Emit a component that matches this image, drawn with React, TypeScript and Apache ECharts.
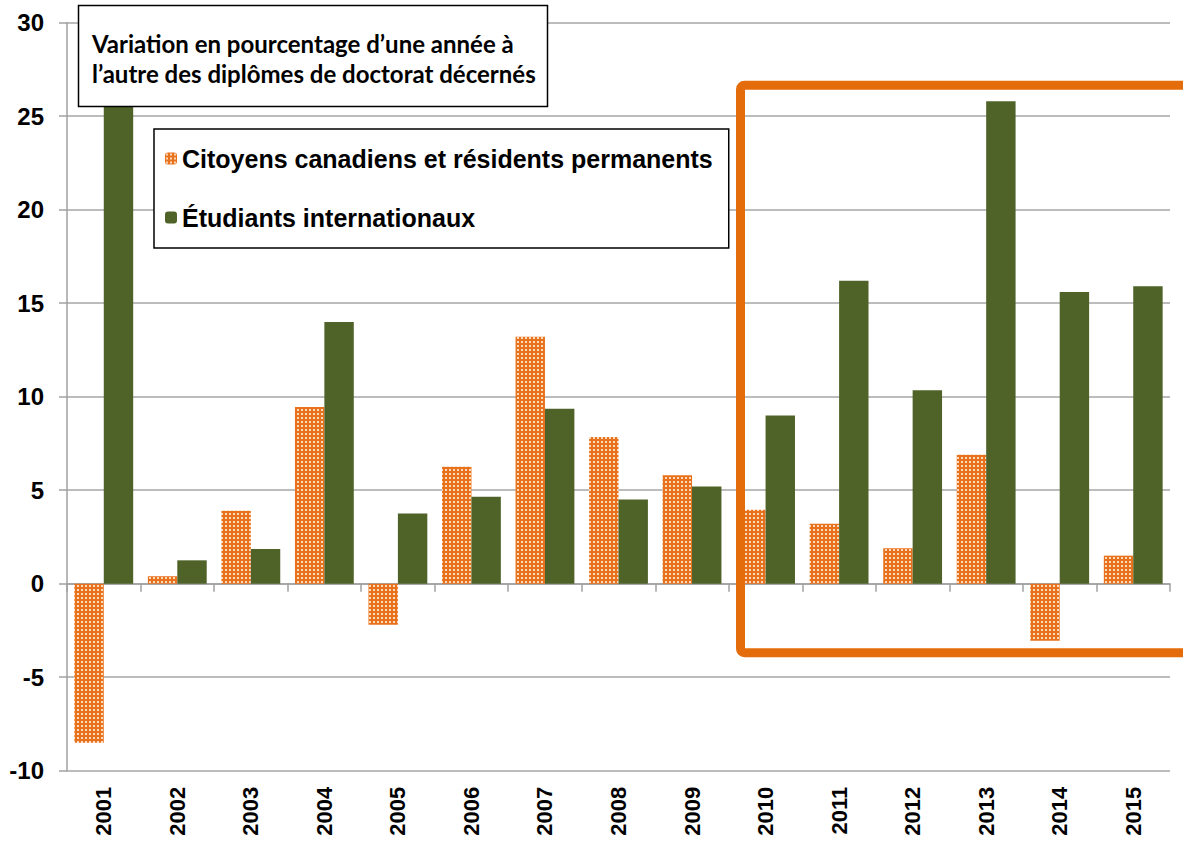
import React, { useEffect, useRef } from "react";
import * as echarts from "echarts";

const years = ["2001", "2002", "2003", "2004", "2005", "2006", "2007", "2008", "2009", "2010", "2011", "2012", "2013", "2014", "2015"];
const citoyens = [-8.5, 0.4, 3.9, 9.45, -2.2, 6.25, 13.2, 7.85, 5.8, 3.95, 3.2, 1.9, 6.9, -3.05, 1.5];
const internationaux = [27.5, 1.25, 1.85, 14.0, 3.75, 4.65, 9.35, 4.5, 5.2, 9.0, 16.2, 10.35, 25.8, 15.6, 15.9];
const seriesNames = ["Citoyens canadiens et résidents permanents", "Étudiants internationaux"];
const titleLines = ["Variation en pourcentage d\u2019une année à", "l\u2019autre des diplômes de doctorat décernés"];

function makePattern() {
  const c = document.createElement("canvas");
  c.width = 4;
  c.height = 4;
  const ctx = c.getContext("2d")!;
  ctx.fillStyle = "#E8721C";
  ctx.fillRect(0, 0, 4, 4);
  ctx.fillStyle = "#FCD9BC";
  ctx.fillRect(1, 1, 2, 2);
  return { image: c.toDataURL(), repeat: "repeat" };
}

export default function App() {
  const ref = useRef<HTMLDivElement>(null);
  useEffect(() => {
    const chart = echarts.init(ref.current!, null, { renderer: "svg" });
    const pattern = makePattern();
    const axisFont = { fontFamily: "Liberation Sans, Arial", fontWeight: "bold" as const, color: "#000" };
    chart.setOption({
      animation: false,
      backgroundColor: "#fff",
      grid: { left: 67, right: 13, top: 22.7, bottom: 846 - 770.7, containLabel: false },
      legend: {
        orient: "vertical",
        left: 154,
        top: 129,
        padding: [17, 16, 18, 11],
        itemWidth: 12,
        itemHeight: 12,
        itemGap: 34,
        backgroundColor: "#fff",
        borderColor: "#000",
        borderWidth: 1.5,
        textStyle: { fontFamily: "Liberation Sans, Arial", fontWeight: "bold", fontSize: 25, color: "#000" },
        data: seriesNames,
        z: 20,
      },
      xAxis: [
        {
          type: "category",
          data: years,
          position: "bottom",
          axisLine: { onZero: true, lineStyle: { color: "#a0a0a0", width: 1.5 } },
          axisTick: { show: true, length: 8, lineStyle: { color: "#a0a0a0", width: 1.5 } },
          axisLabel: { show: false },
          splitLine: { show: false },
        },
        {
          type: "category",
          data: years,
          position: "bottom",
          axisLine: { show: false, onZero: false },
          axisTick: { show: false },
          axisLabel: { ...axisFont, fontSize: 22, rotate: 90, margin: 16, interval: 0 },
          splitLine: { show: false },
        },
      ],
      yAxis: {
        type: "value",
        min: -10,
        max: 30,
        interval: 5,
        axisLine: { show: true, lineStyle: { color: "#a0a0a0", width: 1.5 } },
        axisTick: { show: true, length: 8, lineStyle: { color: "#a0a0a0", width: 1.5 } },
        axisLabel: { ...axisFont, fontSize: 24, margin: 23 },
        splitLine: { show: true, lineStyle: { color: "#a6a6a6", width: 1.5 } },
      },
      series: [
        {
          name: seriesNames[0],
          type: "bar",
          xAxisIndex: 0,
          data: citoyens,
          barGap: "0%",
          barCategoryGap: "20%",
          itemStyle: { color: pattern },
        },
        {
          name: seriesNames[1],
          type: "bar",
          xAxisIndex: 0,
          data: internationaux,
          barGap: "0%",
          barCategoryGap: "20%",
          itemStyle: { color: "#4F6228" },
        },
      ],
      graphic: [
        {
          type: "rect",
          z: 30,
          shape: { x: 78.5, y: 5.5, width: 469, height: 101 },
          style: { fill: "#fff", stroke: "#000", lineWidth: 1.5 },
        },
        {
          type: "text",
          z: 31,
          x: 92,
          y: 43,
          style: { text: titleLines[0], fill: "#000", font: "bold 24px Lato, 'Open Sans', sans-serif", verticalAlign: "middle" },
        },
        {
          type: "text",
          z: 31,
          x: 92,
          y: 73,
          style: { text: titleLines[1], fill: "#000", font: "bold 24px Lato, 'Open Sans', sans-serif", verticalAlign: "middle" },
        },
        {
          type: "rect",
          z: 30,
          shape: { x: 740.5, y: 85.2, width: 520, height: 567.5, r: 4 },
          style: { fill: "none", stroke: "#E46C0A", lineWidth: 9 },
        },
      ],
    });
    return () => chart.dispose();
  }, []);
  return <div ref={ref} style={{ width: 1183, height: 846, position: "absolute", left: 0, top: 0 }} />;
}
